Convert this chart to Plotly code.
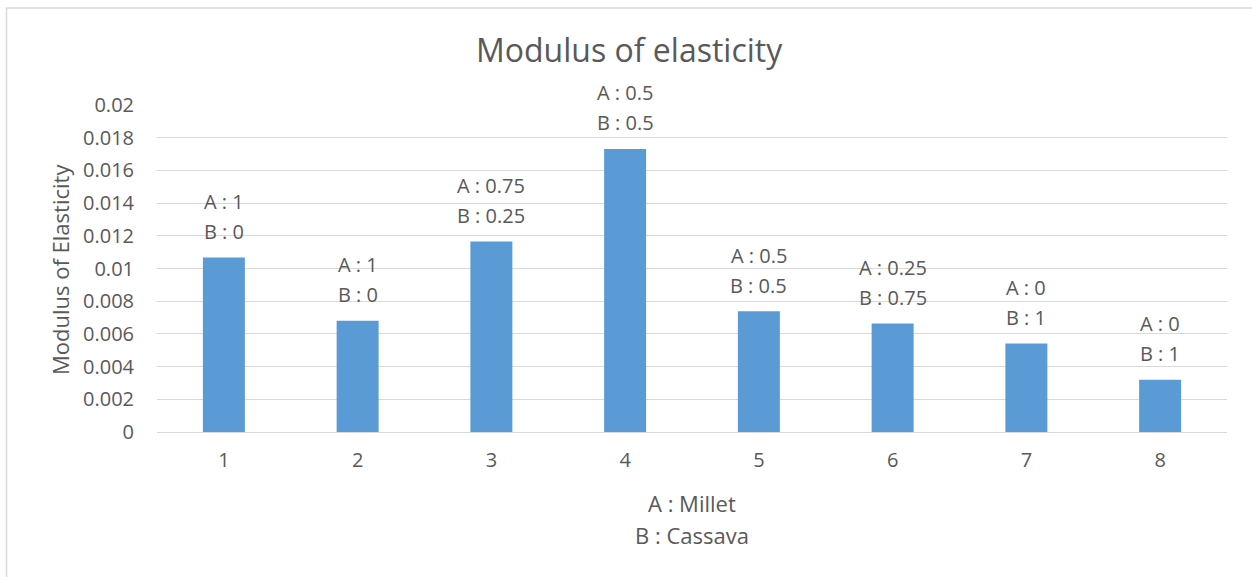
import plotly.graph_objects as go

# Sample number, modulus of elasticity and blend proportions
samples = [1, 2, 3, 4, 5, 6, 7, 8]
modulus = [0.01067, 0.0068, 0.01165, 0.01731, 0.00739, 0.00663, 0.00541, 0.0032]
share_a = ["1", "1", "0.75", "0.5", "0.5", "0.25", "0", "0"]
share_b = ["0", "0", "0.25", "0.5", "0.5", "0.75", "1", "1"]
y_ticks = [0, 0.002, 0.004, 0.006, 0.008, 0.01, 0.012, 0.014, 0.016, 0.018, 0.02]
y_tick_text = ["0", "0.002", "0.004", "0.006", "0.008", "0.01", "0.012", "0.014", "0.016", "0.018", "0.02"]

W, H = 1252, 577
L, R, T, B = 157, 25, 105, 145
PW, PH = W - L - R, H - T - B

FONT = "Open Sans"
GREY = "#595959"

fig = go.Figure()
fig.add_trace(go.Bar(
    x=samples, y=modulus, width=0.314,
    marker=dict(color="#5B9BD5", line=dict(width=0)),
    hoverinfo="x+y",
))

ann = []
for s, v, a, b in zip(samples, modulus, share_a, share_b):
    ann.append(dict(x=s, y=v, xref="x", yref="y", text=f"A : {a}", showarrow=False,
                    yanchor="middle", yshift=56, font=dict(family=FONT, size=20, color=GREY)))
    ann.append(dict(x=s, y=v, xref="x", yref="y", text=f"B : {b}", showarrow=False,
                    yanchor="middle", yshift=26, font=dict(family=FONT, size=20, color=GREY)))

# x-axis legend lines for the blend codes
ann.append(dict(x=0.5, y=-(503 - 432) / PH, xref="paper", yref="paper", text="A : Millet",
                showarrow=False, xanchor="center", yanchor="middle",
                font=dict(family=FONT, size=22, color=GREY)))
ann.append(dict(x=0.5, y=-(535 - 432) / PH, xref="paper", yref="paper", text="B : Cassava",
                showarrow=False, xanchor="center", yanchor="middle",
                font=dict(family=FONT, size=22, color=GREY)))
# y-axis title
ann.append(dict(x=(60 - L) / PW, y=(432 - 270) / PH, xref="paper", yref="paper",
                text="Modulus of Elasticity",
                showarrow=False, textangle=-90, xanchor="center", yanchor="middle",
                font=dict(family=FONT, size=22, color=GREY)))
# chart title
ann.append(dict(x=(629 - L) / PW, y=(432 - 50) / PH, xref="paper", yref="paper",
                text="Modulus of elasticity", showarrow=False, xanchor="center", yanchor="middle",
                font=dict(family=FONT, size=32, color=GREY)))

fig.update_layout(
    width=W, height=H,
    margin=dict(l=L, r=R, t=T, b=B),
    paper_bgcolor="white", plot_bgcolor="white",
    showlegend=False,
    annotations=ann,
    shapes=[dict(type="rect", xref="paper", yref="paper",
                 x0=(6.5 - L) / PW, x1=(W + 10 - L) / PW,
                 y0=-(H + 10 - 432) / PH, y1=(432 - 8) / PH,
                 line=dict(color="#D9D9D9", width=1.5), fillcolor="rgba(0,0,0,0)", layer="below")],
    xaxis=dict(range=[0.5, 8.5], tickvals=samples, ticktext=[str(s) for s in samples],
               showgrid=False, showline=False, ticks="", zeroline=False,
               tickfont=dict(family=FONT, size=20, color=GREY), ticklabelstandoff=14),
    yaxis=dict(range=[0, 0.02], tickvals=y_ticks, ticktext=y_tick_text,
               showgrid=True, gridcolor="#D9D9D9", gridwidth=1.3, zeroline=True,
               zerolinecolor="#D9D9D9", zerolinewidth=1.3, showline=False, ticks="",
               tickfont=dict(family=FONT, size=20, color=GREY), ticklabelstandoff=22),
)

fig.write_html("out.html")
